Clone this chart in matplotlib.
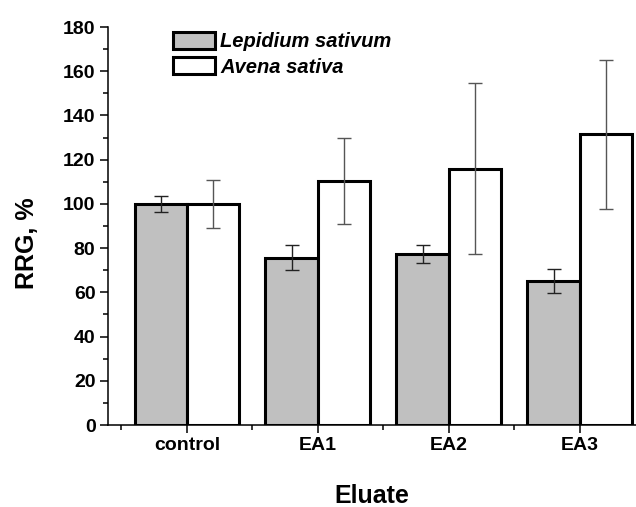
import numpy as np
import matplotlib.pyplot as plt

plt.rcParams['font.family'] = ['Liberation Sans', 'DejaVu Sans']
plt.rcParams['font.weight'] = 'bold'

groups = ['control', 'EA1', 'EA2', 'EA3']
lepidium = [100, 75.6, 77.3, 65.1]
lepidium_err = [3.7, 5.7, 4.0, 5.3]
avena = [100, 110.4, 116.0, 131.4]
avena_err = [10.8, 19.3, 38.6, 33.5]

x = np.arange(len(groups))
w = 0.4

fig = plt.figure(figsize=(6.36, 5.07), dpi=100)
ax = fig.add_axes([108 / 636, 82 / 507, 1 - 108 / 636, 398 / 507])

ax.bar(x - w / 2, lepidium, w, color='#c0c0c0', edgecolor='black', linewidth=2.2,
       label='Lepidium sativum', zorder=2)
ax.bar(x + w / 2, avena, w, color='white', edgecolor='black', linewidth=2.2,
       label='Avena sativa', zorder=2)
ax.errorbar(x - w / 2, lepidium, yerr=lepidium_err, fmt='none', ecolor='#222222',
            elinewidth=1, capsize=5, capthick=1, zorder=3)
ax.errorbar(x + w / 2, avena, yerr=avena_err, fmt='none', ecolor='#555555',
            elinewidth=1, capsize=5, capthick=1, zorder=3)

ax.set_xlim(-0.603, 3.43)
ax.set_ylim(0, 180)
ax.set_xticks(x)
ax.set_xticklabels(groups)
ax.set_xticks([-0.5, 0.5, 1.5, 2.5], minor=True)
ax.set_yticks(np.arange(0, 181, 20))
ax.set_yticks(np.arange(10, 180, 20), minor=True)

for s in ['top', 'right']:
    ax.spines[s].set_visible(False)
for s in ['left', 'bottom']:
    ax.spines[s].set_linewidth(1.1)

ax.tick_params(which='major', length=6, width=1.1, labelsize=14, pad=3)
ax.tick_params(which='minor', length=3.5, width=1.1)
for t in ax.get_xticklabels() + ax.get_yticklabels():
    t.set_fontweight('bold')

fig.text(0.5 * (108 + 636) / 636, 1 - 496 / 507, 'Eluate', ha='center', va='center',
         fontsize=18, fontweight='bold')
fig.text(27 / 636, 1 - 243 / 507, 'RRG, %', ha='center', va='center', rotation=90,
         fontsize=18, fontweight='bold')

leg = ax.legend(loc='upper left', bbox_to_anchor=(173 / 636, 1 - 32 / 507),
                bbox_transform=fig.transFigure, frameon=False,
                handlelength=2.1, handleheight=0.9, handletextpad=0.25,
                labelspacing=0.3, borderpad=0, borderaxespad=0,
                prop={'style': 'italic', 'weight': 'bold', 'size': 14.5})

fig.savefig('out.png', dpi=100)
